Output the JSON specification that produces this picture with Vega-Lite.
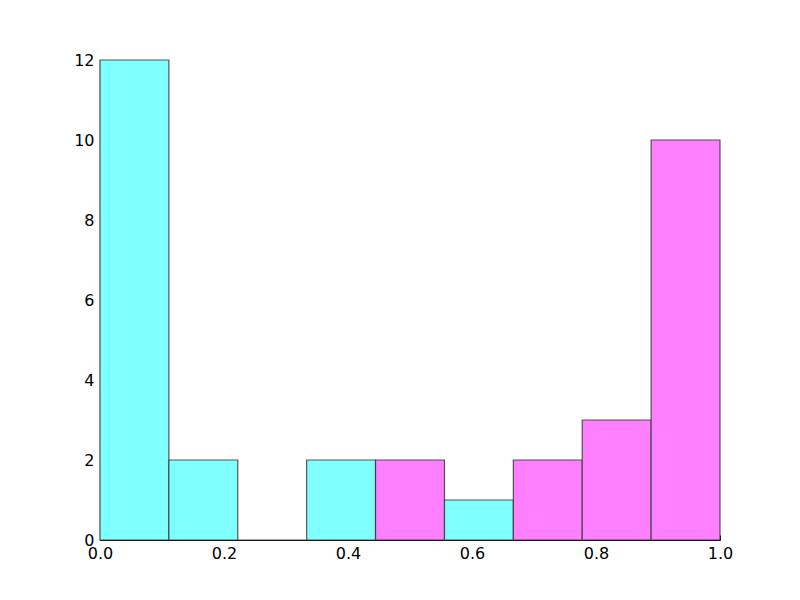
{
  "$schema": "https://vega.github.io/schema/vega-lite/v6.json",
  "width": 620,
  "height": 480,
  "autosize": {"type": "none"},
  "padding": {"left": 100, "top": 60, "right": 80, "bottom": 60},
  "background": "white",
  "config": {
    "view": {"stroke": null},
    "axis": {
      "labelFont": "DejaVu Sans",
      "labelFontSize": 16,
      "labelColor": "black",
      "domainColor": "black",
      "domainWidth": 1.2,
      "tickColor": "black",
      "tickSize": -5,
      "grid": false,
      "title": null
    }
  },
  "data": {
    "values": [
      {"start": 0.0, "end": 0.1111, "count": 12, "group": "cyan"},
      {"start": 0.1111, "end": 0.2222, "count": 2, "group": "cyan"},
      {"start": 0.2222, "end": 0.3333, "count": 0, "group": "cyan"},
      {"start": 0.3333, "end": 0.4444, "count": 2, "group": "cyan"},
      {"start": 0.4444, "end": 0.5556, "count": 2, "group": "magenta"},
      {"start": 0.5556, "end": 0.6667, "count": 1, "group": "cyan"},
      {"start": 0.6667, "end": 0.7778, "count": 2, "group": "magenta"},
      {"start": 0.7778, "end": 0.8889, "count": 3, "group": "magenta"},
      {"start": 0.8889, "end": 1.0, "count": 10, "group": "magenta"}
    ]
  },
  "mark": {"type": "rect", "stroke": "#3a3a3a", "strokeWidth": 1.2, "strokeOpacity": 0.85},
  "encoding": {
    "x": {
      "field": "start",
      "type": "quantitative",
      "scale": {"domain": [0, 1], "nice": false, "zero": false},
      "axis": {"values": [0, 0.2, 0.4, 0.6, 0.8, 1.0], "format": ".1f", "labelPadding": 10, "labelFlush": false}
    },
    "x2": {"field": "end"},
    "y": {
      "field": "count",
      "type": "quantitative",
      "scale": {"domain": [0, 12], "nice": false},
      "axis": {"values": [0, 2, 4, 6, 8, 10, 12], "format": "d", "labelPadding": 11, "labelFlush": false}
    },
    "y2": {"datum": 0},
    "fill": {
      "field": "group",
      "type": "nominal",
      "scale": {"domain": ["cyan", "magenta"], "range": ["#80ffff", "#ff80ff"]},
      "legend": null
    }
  }
}
